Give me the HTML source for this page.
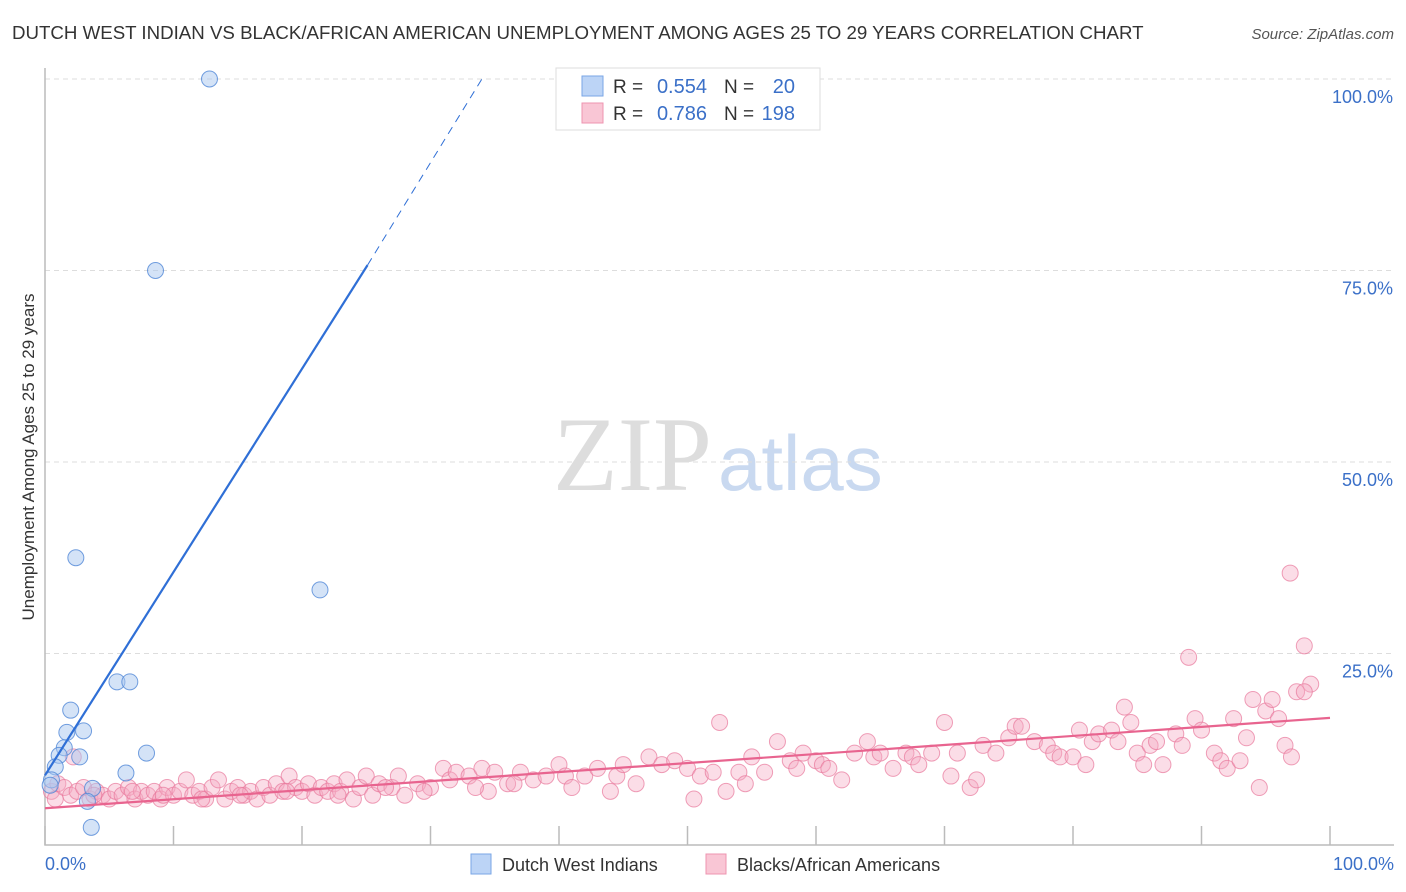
<!DOCTYPE html>
<html><head><meta charset="utf-8"><style>
body{margin:0;background:#fff;font-family:"Liberation Sans",sans-serif;}
svg{display:block}
</style></head><body>
<svg id="chart" width="1406" height="892">
<text x="12" y="39" font-size="18.7" fill="#333">DUTCH WEST INDIAN VS BLACK/AFRICAN AMERICAN UNEMPLOYMENT AMONG AGES 25 TO 29 YEARS CORRELATION CHART</text>
<text x="1394" y="39" font-size="15" fill="#555" font-style="italic" text-anchor="end">Source: ZipAtlas.com</text>
<text x="712" y="490" font-size="106" fill="#ddd" text-anchor="end" font-family="Liberation Serif,serif">ZIP</text>
<text x="718" y="490" font-size="78" fill="#c9d9f0">atlas</text>
<g id="grid"></g><g id="pts"></g><g id="lines"></g>
<text transform="translate(34,457) rotate(-90)" font-size="17" fill="#333" text-anchor="middle">Unemployment Among Ages 25 to 29 years</text>
<g>
<rect x="556" y="68" width="264" height="62" fill="#fff" stroke="#ddd"/>
<rect x="582" y="76" width="21" height="20" fill="#bcd4f6" stroke="#7aa6e6"/>
<rect x="582" y="103" width="21" height="20" fill="#f9c6d5" stroke="#ee94b0"/>
<text x="613" y="93" font-size="19" fill="#333">R =</text>
<text x="707" y="93" font-size="20" fill="#3b70c8" text-anchor="end">0.554</text>
<text x="724" y="93" font-size="19" fill="#333">N =</text>
<text x="795" y="93" font-size="20" fill="#3b70c8" text-anchor="end">20</text>
<text x="613" y="120" font-size="19" fill="#333">R =</text>
<text x="707" y="120" font-size="20" fill="#3b70c8" text-anchor="end">0.786</text>
<text x="724" y="120" font-size="19" fill="#333">N =</text>
<text x="795" y="120" font-size="20" fill="#3b70c8" text-anchor="end">198</text>
</g>
<g>
<rect x="471" y="854" width="20" height="20" fill="#bcd4f6" stroke="#7aa6e6"/>
<text x="502" y="871" font-size="18" fill="#333">Dutch West Indians</text>
<rect x="706" y="854" width="20" height="20" fill="#f9c6d5" stroke="#ee94b0"/>
<text x="737" y="871" font-size="18" fill="#333">Blacks/African Americans</text>
</g>
</svg>
<script>
const xTicks=[0,10,20,30,40,50,60,70,80,90,100];
const yTicks=[25,50,75,100];
const blueX=[12.8,8.6,2.4,21.4,5.6,6.6,2.0,1.7,3.0,1.5,1.1,2.7,7.9,0.8,6.3,0.5,0.4,3.7,3.3,3.6];
const blueY=[100,75,37.5,33.3,21.3,21.3,17.6,14.7,14.9,12.7,11.7,11.5,12.0,10.2,9.4,8.5,7.8,7.4,5.7,2.3];
const pinkX=[0.5,0.8,1,1.5,2,2.5,3,3.5,4,4.5,5,5.5,6,6.5,7,7.5,8,8.5,9,9.5,10,10.5,11,11.5,12,12.5,13,13.5,14,14.5,15,15.5,16,16.5,17,17.5,18,18.5,19,19.5,20,20.5,21,21.5,22,22.5,23,23.5,24,24.5,25,25.5,26,27,27.5,28,29,30,31,31.5,32,33,34,34.5,35,36,37,38,39,40,40.5,41,42,43,44,44.5,45,46,47,48,49,50,50.5,51,52,52.5,53,54,54.5,55,56,57,58,58.5,59,60,60.5,61,62,63,64,64.5,65,66,67,67.5,68,69,70,70.5,71,72,72.5,73,74,75,75.5,76,77,78,78.5,79,80,80.5,81,81.5,82,83,83.5,84,84.5,85,85.5,86,86.5,87,88,88.5,89,89.5,90,91,91.5,92,92.5,93,93.5,94,94.5,95,95.5,96,96.5,97,97.4,96.9,98,98.5,98,2.2,3.8,6.8,9.2,12.2,15.2,18.8,22.8,26.5,29.5,33.5,36.5];
const pinkY=[7,6,8,7.5,6.5,7,7.5,6,7,6.5,6,7,6.5,7.5,6,7,6.5,7,6,7.5,6.5,7,8.5,6.5,7,6,7.5,8.5,6,7,7.5,6.5,7,6,7.5,6.5,8,7,9,7.5,7,8,6.5,7.5,7,8,7,8.5,6,7.5,9,6.5,8,7.5,9,6.5,8,7.5,10,8.5,9.5,9,10,7,9.5,8,9.5,8.5,9,10.5,9,7.5,9,10,7,9,10.5,8,11.5,10.5,11,10,6,9,9.5,16,7,9.5,8,11.5,9.5,13.5,11,10,12,11,10.5,10,8.5,12,13.5,11.5,12,10,12,11.5,10.5,12,16,9,12,7.5,8.5,13,12,14,15.5,15.5,13.5,13,12,11.5,11.5,15,10.5,13.5,14.5,15,13.5,18,16,12,10.5,13,13.5,10.5,14.5,13,24.5,16.5,15,12,11,10,16.5,11,14,19,7.5,17.5,19,16.5,13,11.5,20,35.5,26,21,20,11.5,6.5,7,6.5,6,6.5,7,6.5,7.5,7,7.5,8,8.5];
const blueLine=[0,9.1,25.1,75.7,34,100];
const pinkLine=[0,4.8,100,16.6];
const X=v=>45+v*12.85, Y=v=>845-v*7.66;
const NS='http://www.w3.org/2000/svg';
function mk(t,a,p){const e=document.createElementNS(NS,t);for(const k in a)e.setAttribute(k,a[k]);p.appendChild(e);return e;}
const g=document.getElementById('grid');
yTicks.forEach(v=>{
const l=mk('line',{x1:45,x2:1394,y1:Y(v),y2:Y(v),stroke:'#ddd','stroke-dasharray':'5,4'},g);


const t=mk('text',{x:1393,y:Y(v)+24,'font-size':18,fill:'#3b70c8','text-anchor':'end'},g);t.textContent=v.toFixed(1)+'%';


});
const ax=mk('path',{d:'M45,68V845H1394',fill:'none',stroke:'#bbb','stroke-width':1.5},g);


xTicks.forEach(v=>{const l=mk('line',{x1:X(v),x2:X(v),y1:826,y2:845,stroke:'#bbb','stroke-width':1.5},g);

});
[[0,'0.0%','start',45],[100,'100.0%','end',1394]].forEach(a=>{const t=mk('text',{x:a[3],y:870,'font-size':18,fill:'#3b70c8','text-anchor':a[2]},g);t.textContent=a[1];

});
const p=document.getElementById('pts');
pinkX.forEach((x,i)=>{const c=mk('circle',{cx:X(x),cy:Y(pinkY[i]),r:8,fill:'rgba(246,170,195,0.4)',stroke:'rgba(232,120,155,0.7)','stroke-width':1},p);

});
blueX.forEach((x,i)=>{const c=mk('circle',{cx:X(x),cy:Y(blueY[i]),r:8,fill:'rgba(170,200,240,0.5)',stroke:'rgba(80,135,215,0.8)','stroke-width':1},p);

});
const L=document.getElementById('lines');
const b1=mk('line',{x1:X(blueLine[0]),y1:Y(blueLine[1]),x2:X(blueLine[2]),y2:Y(blueLine[3]),stroke:'#2f6fd6','stroke-width':2.2},L);


const b2=mk('line',{x1:X(blueLine[2]),y1:Y(blueLine[3]),x2:X(blueLine[4]),y2:Y(blueLine[5]),stroke:'#2f6fd6','stroke-width':1,'stroke-dasharray':'8,6'},L);


const pl=mk('line',{x1:X(pinkLine[0]),y1:Y(pinkLine[1]),x2:X(pinkLine[2]),y2:Y(pinkLine[3]),stroke:'#e8648f','stroke-width':2.2},L);


</script>
</body></html>
